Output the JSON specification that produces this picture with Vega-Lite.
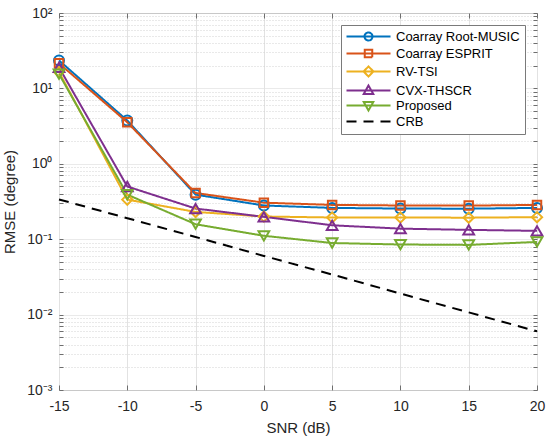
{
  "$schema": "https://vega.github.io/schema/vega-lite/v6.json",
  "width": 478,
  "height": 377,
  "autosize": {"type": "none"},
  "padding": {"left": 59, "top": 13, "right": 13, "bottom": 53},
  "background": "white",
  "data": {
    "values": [
      {"snr": -15, "method": "Coarray Root-MUSIC", "rmse": 23.5},
      {"snr": -10, "method": "Coarray Root-MUSIC", "rmse": 3.75},
      {"snr": -5, "method": "Coarray Root-MUSIC", "rmse": 0.39},
      {"snr": 0, "method": "Coarray Root-MUSIC", "rmse": 0.28},
      {"snr": 5, "method": "Coarray Root-MUSIC", "rmse": 0.26},
      {"snr": 10, "method": "Coarray Root-MUSIC", "rmse": 0.255},
      {"snr": 15, "method": "Coarray Root-MUSIC", "rmse": 0.254},
      {"snr": 20, "method": "Coarray Root-MUSIC", "rmse": 0.26},
      {"snr": -15, "method": "Coarray ESPRIT", "rmse": 21.5},
      {"snr": -10, "method": "Coarray ESPRIT", "rmse": 3.55},
      {"snr": -5, "method": "Coarray ESPRIT", "rmse": 0.41},
      {"snr": 0, "method": "Coarray ESPRIT", "rmse": 0.305},
      {"snr": 5, "method": "Coarray ESPRIT", "rmse": 0.285},
      {"snr": 10, "method": "Coarray ESPRIT", "rmse": 0.28},
      {"snr": 15, "method": "Coarray ESPRIT", "rmse": 0.279},
      {"snr": 20, "method": "Coarray ESPRIT", "rmse": 0.285},
      {"snr": -15, "method": "RV-TSI", "rmse": 16.5},
      {"snr": -10, "method": "RV-TSI", "rmse": 0.335},
      {"snr": -5, "method": "RV-TSI", "rmse": 0.23},
      {"snr": 0, "method": "RV-TSI", "rmse": 0.2},
      {"snr": 5, "method": "RV-TSI", "rmse": 0.194},
      {"snr": 10, "method": "RV-TSI", "rmse": 0.194},
      {"snr": 15, "method": "RV-TSI", "rmse": 0.193},
      {"snr": 20, "method": "RV-TSI", "rmse": 0.196},
      {"snr": -15, "method": "CVX-THSCR", "rmse": 19},
      {"snr": -10, "method": "CVX-THSCR", "rmse": 0.5},
      {"snr": -5, "method": "CVX-THSCR", "rmse": 0.255},
      {"snr": 0, "method": "CVX-THSCR", "rmse": 0.198},
      {"snr": 5, "method": "CVX-THSCR", "rmse": 0.153},
      {"snr": 10, "method": "CVX-THSCR", "rmse": 0.138},
      {"snr": 15, "method": "CVX-THSCR", "rmse": 0.133},
      {"snr": 20, "method": "CVX-THSCR", "rmse": 0.129},
      {"snr": -15, "method": "Proposed", "rmse": 15.5},
      {"snr": -10, "method": "Proposed", "rmse": 0.39},
      {"snr": -5, "method": "Proposed", "rmse": 0.158},
      {"snr": 0, "method": "Proposed", "rmse": 0.111},
      {"snr": 5, "method": "Proposed", "rmse": 0.089},
      {"snr": 10, "method": "Proposed", "rmse": 0.085},
      {"snr": 15, "method": "Proposed", "rmse": 0.084},
      {"snr": 20, "method": "Proposed", "rmse": 0.092},
      {"snr": -15, "method": "CRB", "rmse": 0.337},
      {"snr": -10, "method": "CRB", "rmse": 0.19},
      {"snr": -5, "method": "CRB", "rmse": 0.107},
      {"snr": 0, "method": "CRB", "rmse": 0.06},
      {"snr": 5, "method": "CRB", "rmse": 0.034},
      {"snr": 10, "method": "CRB", "rmse": 0.019},
      {"snr": 15, "method": "CRB", "rmse": 0.0107},
      {"snr": 20, "method": "CRB", "rmse": 0.006}
    ]
  },
  "resolve": {"axis": {"x": "independent", "y": "independent"}},
  "encoding": {
    "x": {
      "field": "snr",
      "type": "quantitative",
      "scale": {"domain": [-15, 20], "nice": false, "zero": false},
      "axis": null
    },
    "y": {
      "field": "rmse",
      "type": "quantitative",
      "scale": {"type": "log", "domain": [0.001, 100], "nice": false},
      "axis": null
    },
    "color": {
      "field": "method",
      "type": "nominal",
      "scale": {
        "domain": ["Coarray Root-MUSIC", "Coarray ESPRIT", "RV-TSI", "CVX-THSCR", "Proposed", "CRB"],
        "range": ["#0072BD", "#D95319", "#EDB120", "#7E2F8E", "#77AC30", "#000000"]
      },
      "legend": {"title": null}
    }
  },
  "layer": [
    {
      "mark": {"type": "point", "filled": false, "strokeWidth": 2, "opacity": 0},
      "encoding": {
        "x": {
          "field": "snr",
          "type": "quantitative",
          "axis": {
            "orient": "top",
            "title": null,
            "labels": false,
            "values": [-15, -10, -5, 0, 5, 10, 15, 20],
            "grid": false,
            "domain": false,
            "ticks": true,
            "tickSize": -5,
            "tickColor": "#6e6e6e"
          }
        },
        "y": {
          "field": "rmse",
          "type": "quantitative",
          "axis": {
            "orient": "right",
            "title": null,
            "labels": false,
            "values": [0.001, 0.002, 0.003, 0.004, 0.005, 0.006, 0.007, 0.008, 0.009,
                       0.01, 0.02, 0.03, 0.04, 0.05, 0.06, 0.07, 0.08, 0.09,
                       0.1, 0.2, 0.3, 0.4, 0.5, 0.6, 0.7, 0.8, 0.9,
                       1, 2, 3, 4, 5, 6, 7, 8, 9,
                       10, 20, 30, 40, 50, 60, 70, 80, 90, 100],
            "grid": false,
            "domain": false,
            "ticks": true,
            "tickSize": -4,
            "tickColor": "#6e6e6e"
          }
        },
        "shape": {
          "field": "method",
          "type": "nominal",
          "scale": {
            "domain": ["Coarray Root-MUSIC", "Coarray ESPRIT", "RV-TSI", "CVX-THSCR", "Proposed", "CRB"],
            "range": [
              "M-1.2,0H7.6M2.4,0A0.8,0.8,0,1,0,4,0A0.8,0.8,0,1,0,2.4,0",
              "M-1.2,0H7.6M2.45,-0.75H3.95V0.75H2.45Z",
              "M-1.2,0H7.6M3.2,-1L4.2,0L3.2,1L2.2,0Z",
              "M-1.2,0H7.6M3.2,-1L4.15,0.7H2.25Z",
              "M-1.2,0H7.6M3.2,1L4.15,-0.7H2.25Z",
              "M-1.2,0H7.6"
            ]
          },
          "legend": {"title": null}
        },
        "strokeDash": {
          "field": "method",
          "type": "nominal",
          "scale": {
            "domain": ["Coarray Root-MUSIC", "Coarray ESPRIT", "RV-TSI", "CVX-THSCR", "Proposed", "CRB"],
            "range": [[1, 0], [1, 0], [1, 0], [1, 0], [1, 0], [10, 7]]
          },
          "legend": {"title": null}
        }
      }
    },
    {
      "mark": {"type": "line", "strokeWidth": 2},
      "encoding": {
        "x": {
          "field": "snr",
          "type": "quantitative",
          "axis": {
            "title": "SNR (dB)",
            "values": [-15, -10, -5, 0, 5, 10, 15, 20],
            "labelExpr": "'' + datum.value",
            "grid": true,
            "gridColor": "#e2e2e2",
            "domain": false,
            "ticks": true,
            "tickSize": -5,
            "tickColor": "#6e6e6e",
            "labelPadding": 14,
            "titlePadding": 7
          }
        },
        "y": {
          "field": "rmse",
          "type": "quantitative",
          "axis": {
            "title": "RMSE (degree)",
            "values": [0.001, 0.002, 0.003, 0.004, 0.005, 0.006, 0.007, 0.008, 0.009,
                       0.01, 0.02, 0.03, 0.04, 0.05, 0.06, 0.07, 0.08, 0.09,
                       0.1, 0.2, 0.3, 0.4, 0.5, 0.6, 0.7, 0.8, 0.9,
                       1, 2, 3, 4, 5, 6, 7, 8, 9,
                       10, 20, 30, 40, 50, 60, 70, 80, 90, 100],
            "labelExpr": "datum.value == 100 ? '10²' : datum.value == 10 ? '10¹' : datum.value == 1 ? '10⁰' : datum.value == 0.1 ? '10⁻¹' : datum.value == 0.01 ? '10⁻²' : datum.value == 0.001 ? '10⁻³' : ''",
            "grid": true,
            "gridColor": {"condition": {"test": "indexof([0.001, 0.01, 0.1, 1, 10, 100], datum.value) >= 0", "value": "#e2e2e2"}, "value": "#d2d2d2"},
            "gridDash": {"condition": {"test": "indexof([0.001, 0.01, 0.1, 1, 10, 100], datum.value) >= 0", "value": [1, 0]}, "value": [1, 2]},
            "domain": false,
            "ticks": true,
            "tickSize": -4,
            "tickColor": "#6e6e6e",
            "labelPadding": 11,
            "titlePadding": 9
          }
        },
        "color": {"field": "method", "type": "nominal", "legend": null},
        "strokeDash": {"field": "method", "type": "nominal", "legend": null}
      }
    },
    {
      "transform": [{"filter": "datum.method == 'Coarray Root-MUSIC'"}],
      "mark": {"type": "point", "shape": "circle", "filled": false, "strokeWidth": 2, "size": 100, "opacity": 1},
      "encoding": {"color": {"field": "method", "type": "nominal", "legend": null}}
    },
    {
      "transform": [{"filter": "datum.method == 'Coarray ESPRIT'"}],
      "mark": {"type": "point", "shape": "square", "filled": false, "strokeWidth": 2, "size": 72, "opacity": 1},
      "encoding": {"color": {"field": "method", "type": "nominal", "legend": null}}
    },
    {
      "transform": [{"filter": "datum.method == 'RV-TSI'"}],
      "mark": {"type": "point", "shape": "diamond", "filled": false, "strokeWidth": 2, "size": 105, "opacity": 1},
      "encoding": {"color": {"field": "method", "type": "nominal", "legend": null}}
    },
    {
      "transform": [{"filter": "datum.method == 'CVX-THSCR'"}],
      "mark": {"type": "point", "shape": "triangle-up", "filled": false, "strokeWidth": 2, "size": 115, "opacity": 1},
      "encoding": {"color": {"field": "method", "type": "nominal", "legend": null}}
    },
    {
      "transform": [{"filter": "datum.method == 'Proposed'"}],
      "mark": {"type": "point", "shape": "triangle-down", "filled": false, "strokeWidth": 2, "size": 115, "opacity": 1},
      "encoding": {"color": {"field": "method", "type": "nominal", "legend": null}}
    }
  ],
  "config": {
    "font": "Liberation Sans",
    "view": {"stroke": "#7a7a7a", "strokeWidth": 1},
    "axis": {
      "labelFont": "Liberation Sans",
      "labelFontSize": 14,
      "labelColor": "#262626",
      "titleFont": "Liberation Sans",
      "titleFontSize": 15,
      "titleFontWeight": "normal",
      "titleColor": "#262626",
      "labelFlush": false,
      "labelOverlap": false
    },
    "legend": {
      "orient": "top-right",
      "offset": 12,
      "fillColor": "white",
      "strokeColor": "#7a7a7a",
      "padding": 5,
      "labelFont": "Liberation Sans",
      "labelFontSize": 13,
      "labelColor": "#000000",
      "symbolSize": 100,
      "symbolStrokeWidth": 2,
      "symbolOpacity": 1,
      "labelOffset": 37,
      "rowPadding": 0
    }
  }
}
